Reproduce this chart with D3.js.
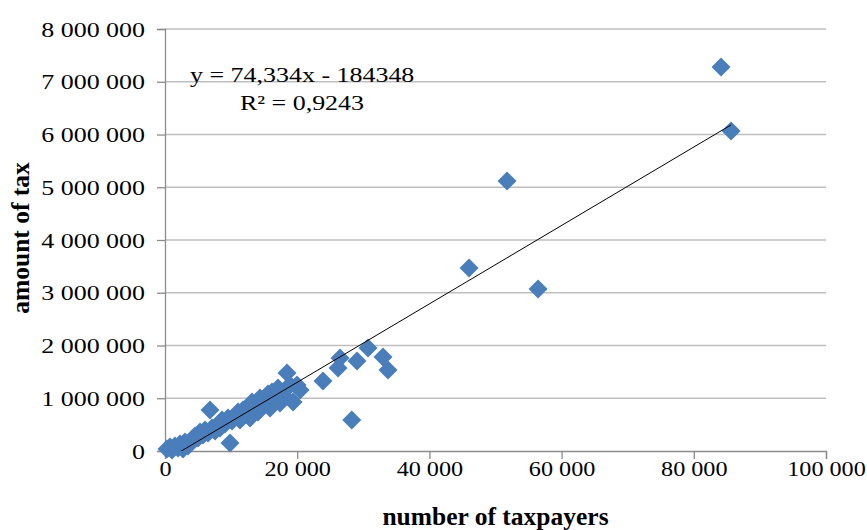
<!DOCTYPE html>
<html>
<head>
<meta charset="utf-8">
<script src="https://cdn.jsdelivr.net/npm/d3@7"></script>
<style>
  body { margin: 0; background: #fff; }
  text { font-family: "Liberation Serif", "Times New Roman", serif; fill: #000; }
</style>
</head>
<body>
<svg width="867" height="530"></svg>
<script>
// number of taxpayers
let taxpayers = [300, 760, 1060, 1510, 1970, 2270, 2720, 3030, 3480, 4085,
  4540, 4990, 5300, 5750, 6050, 6510, 6810, 7110, 7570, 8020,
  8320, 8620, 9080, 9530, 9830, 10140, 10590, 11050, 11350, 11800,
  12100, 12560, 12860, 13160, 13620, 14070, 14370, 14680, 15130, 15580,
  15890, 16190, 16640, 17100, 17400, 17850, 18160, 18460, 18910, 19370,
  19970, 20430, 23900, 26180, 26480, 28250, 29050, 30710, 32980, 33740,
  46000, 51750, 56440, 84120, 85640];

// amount of tax
let taxAmount = [40000, 75000, 20000, 95000, 57000, 133000, 38000, 171000, 95000, 208000,
  284000, 246000, 360000, 303000, 398000, 341000, 777000, 436000, 379000, 493000,
  436000, 588000, 512000, 626000, 152000, 569000, 663000, 739000, 588000, 777000,
  701000, 815000, 626000, 929000, 853000, 739000, 1005000, 891000, 967000, 1081000,
  815000, 1118000, 1005000, 1194000, 910000, 1062000, 1156000, 1479000, 1251000, 929000,
  1251000, 1156000, 1327000, 1573000, 1763000, 588000, 1706000, 1953000, 1782000, 1535000,
  3469000, 5118000, 3071000, 7280000, 6066000];

let xTicks = [0, 20000, 40000, 60000, 80000, 100000];
let yTicks = [0, 1000000, 2000000, 3000000, 4000000, 5000000, 6000000, 7000000, 8000000];

// linear trend: slope, intercept, r squared
let trend = [74.334, -184348];
let rSquared = "0,9243";

let plotLeft = 165, plotRight = 826, plotTop = 29, plotBottom = 451;
let stretch = 1.18; // text in the picture is a little wider than the font

let svg = d3.select("svg");

let x = d3.scaleLinear().domain([0, 100000]).range([plotLeft, plotRight]);
let y = d3.scaleLinear().domain([0, 8000000]).range([plotBottom, plotTop]);

let fmt = (d) => d3.format(",")(d).replace(/,/g, " ");

// horizontal grid
svg.append("g")
  .selectAll("line")
  .data(yTicks.slice(1))
  .enter().append("line")
    .attr("x1", plotLeft).attr("x2", plotRight)
    .attr("y1", (d) => y(d)).attr("y2", (d) => y(d))
    .attr("stroke", "#bfbfbf")
    .attr("stroke-width", 1.3);

// y axis
let yAxis = svg.append("g")
  .attr("transform", `translate(${plotLeft},0)`)
  .call(d3.axisLeft(y).tickValues(yTicks).tickFormat(fmt).tickSize(8));
yAxis.select(".domain").attr("stroke", "#8c8c8c").attr("stroke-width", 1.3);
yAxis.selectAll(".tick line").attr("stroke", "#8c8c8c").attr("stroke-width", 1.3);
yAxis.selectAll(".tick text")
  .attr("x", 0)
  .attr("transform", `translate(-20,0) scale(${stretch},1)`)
  .attr("font-size", 22)
  .attr("font-family", "Liberation Serif, serif")
  .attr("fill", "#000");

// x axis
let xAxis = svg.append("g")
  .attr("transform", `translate(0,${plotBottom})`)
  .call(d3.axisBottom(x).tickValues(xTicks).tickFormat(fmt).tickSize(8).tickPadding(1));
xAxis.select(".domain").attr("stroke", "#8c8c8c").attr("stroke-width", 1.3);
xAxis.selectAll(".tick line").attr("stroke", "#8c8c8c").attr("stroke-width", 1.3);
xAxis.selectAll(".tick text")
  .attr("transform", "scale(1.1,1)")
  .attr("font-size", 22)
  .attr("font-family", "Liberation Serif, serif")
  .attr("fill", "#000");

// points
let r = 9.5;
let data = taxpayers.map((d, i) => ({ x: d, y: taxAmount[i] }));
svg.append("g")
  .selectAll("path")
  .data(data)
  .enter().append("path")
    .attr("transform", (d) => `translate(${x(d.x)},${y(d.y)})`)
    .attr("d", `M0,${-r}L${r},0L0,${r}L${-r},0Z`)
    .attr("fill", "#4a7ebb");

// trend line, clipped to the plot area
svg.append("clipPath").attr("id", "plot")
  .append("rect")
    .attr("x", plotLeft).attr("y", plotTop)
    .attr("width", plotRight - plotLeft).attr("height", plotBottom - plotTop);

let xExt = d3.extent(taxpayers);
let f = (v) => trend[0] * v + trend[1];
svg.append("line")
  .attr("clip-path", "url(#plot)")
  .attr("x1", x(xExt[0])).attr("y1", y(f(xExt[0])))
  .attr("x2", x(xExt[1])).attr("y2", y(f(xExt[1])))
  .attr("stroke", "#000")
  .attr("stroke-width", 1);

// equation labels
svg.append("text")
  .attr("transform", `translate(190,82) scale(${stretch},1)`)
  .attr("font-size", 22)
  .text(`y = ${String(trend[0]).replace(".", ",")}x - ${Math.abs(trend[1])}`);
svg.append("text")
  .attr("transform", `translate(240,110) scale(${stretch},1)`)
  .attr("font-size", 22)
  .text(`R² = ${rSquared}`);

// axis titles
svg.append("text")
  .attr("x", (plotLeft + plotRight) / 2).attr("y", 525)
  .attr("text-anchor", "middle")
  .attr("font-size", 25.5)
  .attr("font-weight", "bold")
  .text("number  of  taxpayers");

svg.append("text")
  .attr("transform", `translate(29,${(plotTop + plotBottom) / 2 - 2}) rotate(-90)`)
  .attr("text-anchor", "middle")
  .attr("font-size", 25.5)
  .attr("font-weight", "bold")
  .text("amount  of  tax");
</script>
</body>
</html>
